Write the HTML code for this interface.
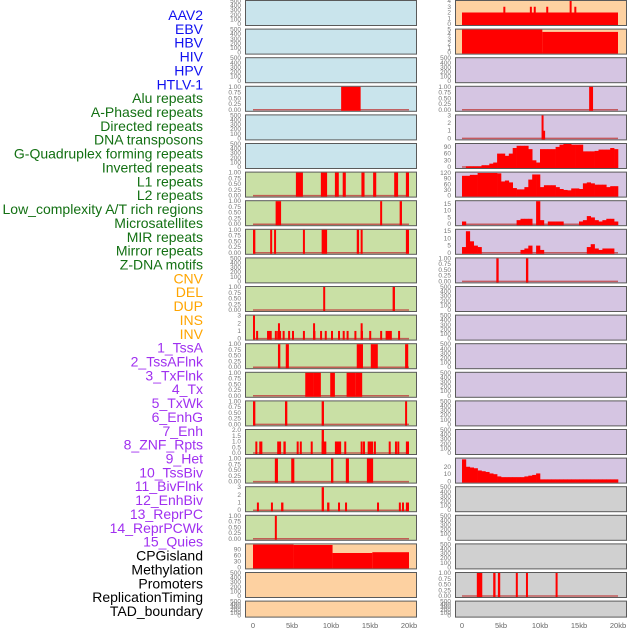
<!DOCTYPE html>
<html><head><meta charset="utf-8"><style>
html,body{margin:0;padding:0;background:#fff;width:630px;height:630px;overflow:hidden}
svg{display:block;font-family:"Liberation Sans",sans-serif}
</style></head><body>
<svg id="c" width="630" height="630" viewBox="0 0 630 630"></svg>
<script>
// ---- labels ----
const labels=["AAV2","EBV","HBV","HIV","HPV","HTLV-1","Alu repeats","A-Phased repeats","Directed repeats","DNA transposons","G-Quadruplex forming repeats","Inverted repeats","L1 repeats","L2 repeats","Low_complexity A/T rich regions","Microsatellites","MIR repeats","Mirror repeats","Z-DNA motifs","CNV","DEL","DUP","INS","INV","1_TssA","2_TssAFlnk","3_TxFlnk","4_Tx","5_TxWk","6_EnhG","7_Enh","8_ZNF_Rpts","9_Het","10_TssBiv","11_BivFlnk","12_EnhBiv","13_ReprPC","14_ReprPCWk","15_Quies","CPGisland","Methylation","Promoters","ReplicationTiming","TAD_boundary"];
const labelGroups=[6,13,5,15,5];
const groupColors=["#1010f0","#137013","#ffa500","#a030f0","#000000"];
const xTicks=[0,5,10,15,20];
const xTickLabels=["0","5kb","10kb","15kb","20kb"];

// ---- series data: intervals [startKb,endKb,value]; profiles are 0.5kb bins ----
const aluL=[[11.3,13.8,1]];
const l1L=[[5.5,6.4,1],[8.7,9.5,1],[10.5,11,1],[11.5,11.9,1],[13.9,14.3,1],[15.4,15.8,1],[18.1,18.6,1],[19.6,20,1]];
const lowL=[[2.9,3.6,1],[16.3,16.5,1],[18.8,19.1,1]];
const microL=[[0,0.3,1],[2.2,2.4,1],[2.7,2.9,1],[6.4,6.6,1],[8.8,9.5,1],[13.3,13.6,1],[13.8,14,1],[19.6,20,1]];
const cnvL=[[9,9.2,1],[17.9,18.2,1]];
const delL=[[0,0.25,3],[0.4,0.6,1],[1.8,2.4,1],[2.8,3,1],[3.2,3.4,2],[3.1,3.6,1],[3.8,4,1],[4.5,4.7,1],[5,5.2,1],[6.4,6.6,1],[7.7,7.9,2],[7.7,8,1],[8.6,8.8,1],[9.2,9.4,1],[10,10.2,1],[10.9,11.1,1],[11.5,11.7,1],[12,12.2,1],[13,13.2,1],[13.8,14,2],[13.8,14.1,1],[14.9,15.1,1],[16.3,16.5,1],[17,17.8,1],[18.6,18.8,1]];
const dupL=[[3.2,3.5,1],[4.2,4.6,1],[13.3,14.1,1],[15.1,16,1],[19.5,19.9,1]];
const insL=[[6.7,7.7,1],[7.7,8.7,1],[9.9,10.5,1],[12,13.1,1],[13.1,14,1]];
const tssaL=[[0,0.3,1],[4.1,4.4,1],[8.8,9.1,1],[19.5,19.7,1]];
const tssflnkL=[[0.3,0.5,1],[0.8,1.2,1],[3.1,3.6,1],[3.9,4.2,1],[5.6,5.8,1],[6,6.2,1],[7.4,7.6,1],[8.8,9.1,2],[8.8,9.4,1],[10.5,11.3,1],[11.7,11.9,1],[13.8,14,1],[14.1,14.3,1],[14.7,15.4,1],[15.5,15.7,1],[17.4,17.6,1],[18.2,18.4,1],[18.5,18.7,1],[19.6,20,1]];
const txflnkL=[[2.8,3.2,1],[4.9,5.3,1],[10,10.3,1],[11.9,12.3,1],[14.6,15.4,1]];
const txL=[[0.5,0.7,1],[2.3,2.5,1],[3.6,3.9,1],[8.8,9.1,3],[9.5,9.8,1],[10.9,11.1,1],[11.8,12,1],[15.9,16.1,1],[18.7,18.9,1],[19.1,19.3,1],[19.6,20,1]];
const txwkL=[[2.8,3,1]];
const cpgL=[[0,5.2,114],[5.2,10.2,112],[10.2,15.3,72],[15.3,20,76]];
const aav2R=[[0,20,2],[5.3,5.5,3],[8.7,8.9,3],[9.2,9.4,3],[10.8,11,3],[13.8,14,4],[14.4,14.6,3]];
const ebvR=[[0,10.3,5],[10.3,20,4.5]];
const hbvR=[[16.3,16.8,1]];
const hivR=[[10.2,10.4,3],[10.4,10.6,1]];
const gquadR=[0,3,3,3,3,8,8,15,20,60,60,50,60,85,95,95,95,80,30,20,80,80,80,80,90,100,103,103,100,100,100,70,70,70,72,78,78,78,85,80];
const invR=[105,105,110,110,120,120,120,120,120,118,75,80,70,40,33,33,45,85,112,112,45,55,55,55,45,35,30,28,38,38,35,65,70,65,58,58,58,45,50,50];
const l2R=[2,0,0,0,0,0,0,0,0,0,0,0,0,0,3,4,4,4,0,17,3,0,2,2,2,2,0,0,0,0,2,3,6,5,3,2,3,4,4,2];
const lowR=[4,15,8,5,4,0,0,0,0,0,0,0,0,0,0,2,3,5,0,5,2,0,0,0,0,0,0,0,0,0,0,0,4,6,3,2,3,3,3,0];
const microR=[[4.4,4.7,1],[8.2,8.5,1]];
const tssbivR=[30,20,19,18,15,14,13,11,10,7,6,6,6,6,6,6,7,8,9,11,3,3,3,3,3,3,3,3,3,3,3,3,3,3,3,3,3,3,3,3];
const promR=[[1.9,2.6,1],[4,4.3,1],[4.6,4.9,1],[6.9,7.1,1],[8.2,8.4,1],[12,12.2,1]];

// ---- panel specs ----
const EMPTY=[0,100,200,300,400,500], BIN=[0,0.25,0.5,0.75,1];
const C={b:"#c9e4ec",g:"#c9e0a5",o:"#fdd1a1",p:"#d5c5e2",y:"#d0d0d0"};
const panels=[
 // left column
 {c:0,r:0,bg:C.b},{c:0,r:1,bg:C.b},{c:0,r:2,bg:C.b},
 {c:0,r:3,bg:C.b,iv:aluL,t:BIN,m:1,name:"alu"},
 {c:0,r:4,bg:C.b},{c:0,r:5,bg:C.b},
 {c:0,r:6,bg:C.g,iv:l1L,t:BIN,m:1},{c:0,r:7,bg:C.g,iv:lowL,t:BIN,m:1},{c:0,r:8,bg:C.g,iv:microL,t:BIN,m:1},
 {c:0,r:9,bg:C.g},{c:0,r:10,bg:C.g,iv:cnvL,t:BIN,m:1},
 {c:0,r:11,bg:C.g,iv:delL,t:[0,1,2,3],m:3},{c:0,r:12,bg:C.g,iv:dupL,t:BIN,m:1},{c:0,r:13,bg:C.g,iv:insL,t:BIN,m:1},
 {c:0,r:14,bg:C.g,iv:tssaL,t:BIN,m:1},{c:0,r:15,bg:C.g,iv:tssflnkL,t:[0,0.5,1,1.5,2],m:2,f:1},
 {c:0,r:16,bg:C.g,iv:txflnkL,t:BIN,m:1},{c:0,r:17,bg:C.g,iv:txL,t:[0,1,2,3],m:3},{c:0,r:18,bg:C.g,iv:txwkL,t:BIN,m:1},
 {c:0,r:19,bg:C.o,iv:cpgL,t:[0,30,60,90],m:115,nb:1},{c:0,r:20,bg:C.o},{c:0,r:21,bg:C.o,h:16},
 // right column
 {c:1,r:0,bg:C.o,iv:aav2R,t:[0,1,2,3,4],m:4},{c:1,r:1,bg:C.o,iv:ebvR,t:[0,1,2,3,4,5],m:5},
 {c:1,r:2,bg:C.p},{c:1,r:3,bg:C.p,iv:hbvR,t:BIN,m:1},{c:1,r:4,bg:C.p,iv:hivR,t:[0,1,2,3],m:3},
 {c:1,r:5,bg:C.p,pr:gquadR,t:[0,30,60,90],m:103},{c:1,r:6,bg:C.p,pr:invR,t:[0,30,60,90,120],m:122},
 {c:1,r:7,bg:C.p,pr:l2R,t:[0,5,10,15],m:17},{c:1,r:8,bg:C.p,pr:lowR,t:[0,5,10,15],m:16},
 {c:1,r:9,bg:C.p,iv:microR,t:BIN,m:1},
 {c:1,r:10,bg:C.p},{c:1,r:11,bg:C.p},{c:1,r:12,bg:C.p},{c:1,r:13,bg:C.p},{c:1,r:14,bg:C.p},{c:1,r:15,bg:C.p},
 {c:1,r:16,bg:C.p,pr:tssbivR,t:[0,10,20],m:31},
 {c:1,r:17,bg:C.y},{c:1,r:18,bg:C.y},{c:1,r:19,bg:C.y},
 {c:1,r:20,bg:C.y,iv:promR,t:BIN,m:1},{c:1,r:21,bg:C.y,h:16}
];

const NS="http://www.w3.org/2000/svg";
const svg=document.getElementById("c");
function mk(tag,attrs,parent){const e=document.createElementNS(NS,tag);for(const k in attrs)e.setAttribute(k,attrs[k]);(parent||svg).appendChild(e);return e;}

// labels
let gi=0,cnt=0;
labels.forEach((t,i)=>{
  while(cnt>=labelGroups[gi]){cnt=0;gi++;}
  cnt++;
  const e=mk("text",{x:203,y:15+i*13.86+5,"text-anchor":"end","font-size":"14",fill:groupColors[gi]});
  e.textContent=t;
  
  
});

const PX=[245,455], PW=171, X0=[253,462], KX=7.8;
function xs(c,kb){return X0[c]+kb*KX;}

panels.forEach(p=>{
  const top=p.r*28.6+0.5, h=p.h||25;
  const g=mk("g",{});
  
  
  const bg=mk("rect",{x:PX[p.c]+0.5,y:top,width:PW,height:h,fill:p.bg,stroke:"#5a5a5a","stroke-width":1},g);
  
  
  const ticks=p.t||EMPTY, ymax=p.m||500;
  const yb=top+h-1.5, yt=top+0.5;
  const ys=v=>yb-(v/ymax)*(yb-yt);
  ticks.forEach(v=>{
    const lbl=mk("text",{x:PX[p.c]-4,y:ys(v)+2,"text-anchor":"end","font-size":"6.5",fill:"#777"},g);
    lbl.textContent=(ticks===BIN)?v.toFixed(2):(p.f?v.toFixed(1):String(v));
    
    
  });
  const hasData=p.iv||p.pr;
  if(hasData&&!p.nb){
    const bl=mk("line",{x1:xs(p.c,0),x2:xs(p.c,20),y1:yb,y2:yb,stroke:"#c04040","stroke-width":1.5,opacity:0.8},g);
    
    
  }
  if(p.iv){
    p.iv.forEach(d=>{
      const x1=xs(p.c,d[0]),x2=xs(p.c,d[1]);
      const b=mk("rect",{x:x1,y:ys(d[2]),width:Math.max(2,x2-x1),height:yb-ys(d[2])+1,fill:"#ff0000"},g);
      
      
    });
  }
  if(p.pr){
    p.pr.forEach((v,i)=>{
      if(v<=0)return;
      const x1=xs(p.c,i*0.5),x2=xs(p.c,(i+1)*0.5);
      const b=mk("rect",{x:x1,y:ys(v),width:x2-x1+0.3,height:yb-ys(v)+1,fill:"#ff0000"},g);
      
      
    });
  }
});

// x axes
[0,1].forEach(c=>{
  xTicks.forEach((v,i)=>{
    const t=mk("text",{x:xs(c,v),y:628,"text-anchor":"middle","font-size":"7.5",fill:"#666"});
    t.textContent=xTickLabels[i];
    
    
  });
});
</script>
</body></html>
